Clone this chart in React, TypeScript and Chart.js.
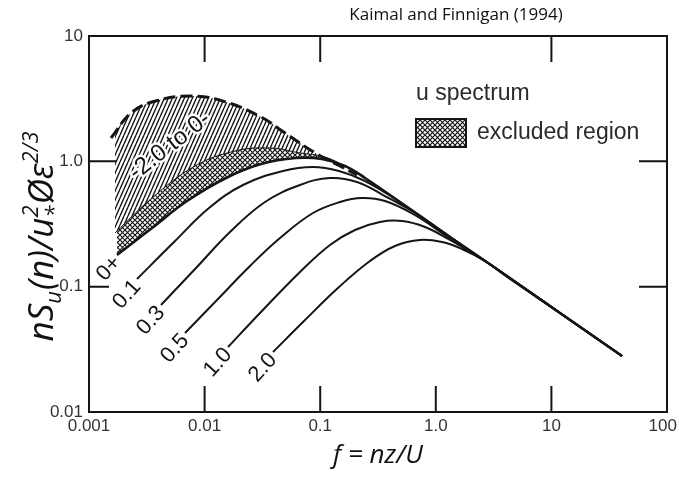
import React, { useEffect, useRef } from 'react';
import { Chart, registerables } from 'chart.js';

Chart.register(...registerables);

// ---- axis ticks ----
const X_TICKS = [0.001, 0.01, 0.1, 1, 10, 100];
const X_TICK_LABELS = ['0.001', '0.01', '0.1', '1.0', '10', '100\u2002'];
const Y_TICKS = [0.01, 0.1, 1, 10];
const Y_TICK_LABELS = ['0.01', '0.1', '1.0', '10'];
const BOTTOM_INNER_TICKS = [0.01, 0.1, 1, 10];
const TOP_INNER_TICKS = [0.01, 0.1, 10];
const SIDE_INNER_TICKS = [1, 0.1];

// ---- shared high-frequency (-2/3) tail ----
const TAIL_F = [0.4901, 1.327, 3.003, 11.87, 40.81];
const TAIL_V = [0.4736, 0.249, 0.1489, 0.06164, 0.02798];

// ---- dashed upper envelope (-2.0 to 0-) ----
const DASH_F = [0.0015502, 0.0022623, 0.0035075, 0.007626, 0.015316, 0.030743, 0.0496, 0.09382, 0.14836, 0.2081];
const DASH_V = [1.5357, 2.3864, 2.9749, 3.3206, 2.9749, 2.2584, 1.6834, 1.1444, 0.918, 0.778];

// ---- upper edge of the excluded (cross-hatched) region ----
const EXCL_F = [0.0016788, 0.0035075, 0.0082605, 0.01833, 0.036805, 0.06688, 0.11003, 0.16388];
const EXCL_V = [0.2681, 0.5097, 0.918, 1.209, 1.2777, 1.1657, 1.083, 0.918];

// ---- stable spectra, z/L = ----
const F_0P = [0.0017467, 0.0035075, 0.0070434, 0.015316, 0.030743, 0.06175, 0.10365, 0.16388, 0.2441];
const V_0P = [0.1789, 0.2938, 0.4824, 0.7364, 0.9523, 1.0633, 1.0439, 0.918, 0.7364];
const F_01 = [0.0026021, 0.0054365, 0.010916, 0.021483, 0.047665, 0.08664, 0.14544, 0.2441];
const V_01 = [0.1151, 0.2271, 0.4242, 0.6474, 0.8374, 0.9013, 0.8374, 0.6967];
const F_03 = [0.0041955, 0.0084267, 0.016585, 0.033307, 0.06688, 0.12154, 0.2081, 0.3494, 0.6878];
const V_03 = [0.0714, 0.1409, 0.273, 0.4736, 0.6474, 0.7364, 0.6841, 0.5386, 0.38];
const F_05 = [0.0067686, 0.012802, 0.024707, 0.0449, 0.08664, 0.14836, 0.22992, 0.36356, 0.6349, 1.2751];
const V_05 = [0.0427, 0.07827, 0.14621, 0.24446, 0.387, 0.4736, 0.5097, 0.4824, 0.38, 0.249];
const F_10 = [0.015938, 0.030743, 0.06688, 0.12154, 0.2, 0.3291, 0.51002, 0.8064, 1.327, 2.1834];
const V_10 = [0.03302, 0.06278, 0.13094, 0.21503, 0.28335, 0.3281, 0.33418, 0.2993, 0.2357, 0.1789];
const F_20 = [0.039065, 0.07242, 0.14544, 0.2696, 0.44367, 0.7301, 1.1315, 1.6852, 2.6659, 4.384];
const V_20 = [0.03011, 0.05321, 0.09939, 0.16025, 0.21112, 0.2357, 0.2271, 0.19979, 0.16025, 0.1151];

const CURVE_LABELS = ['0+', '0.1', '0.3', '0.5', '1.0', '2.0'];
const CURVE_F = [F_0P, F_01, F_03, F_05, F_10, F_20];
const CURVE_V = [V_0P, V_01, V_03, V_05, V_10, V_20];
const CURVE_TAIL_FROM = [0, 0, 1, 2, 2, 3];

const TITLE = 'Kaimal and Finnigan (1994)';
const X_TITLE = 'f = nz/U';
const RANGE_LABEL = '-2.0 to 0-';
const RANGE_LABEL_AT = { f: 0.005, v: 1.33 };
const LEGEND_TITLE = 'u spectrum';
const LEGEND_ITEM = 'excluded region';

const INK = '#151515';

function pts(f: number[], v: number[]) {
  return f.map((x, i) => ({ x, y: v[i] }));
}

function crossHatch(): CanvasPattern | string {
  const c = document.createElement('canvas');
  c.width = 5;
  c.height = 5;
  const g = c.getContext('2d');
  if (!g) return INK;
  g.strokeStyle = INK;
  g.lineWidth = 1.2;
  g.beginPath();
  g.moveTo(-1, -1);
  g.lineTo(6, 6);
  g.moveTo(-1, 6);
  g.lineTo(6, -1);
  g.stroke();
  return g.createPattern(c, 'repeat') || INK;
}

function diagHatch(): CanvasPattern | string {
  const w = 4;
  const h = 9;
  const c = document.createElement('canvas');
  c.width = w;
  c.height = h;
  const g = c.getContext('2d');
  if (!g) return INK;
  g.strokeStyle = INK;
  g.lineWidth = 1.35;
  g.beginPath();
  for (const dx of [-w, 0, w]) {
    g.moveTo(dx, h);
    g.lineTo(dx + w, 0);
  }
  g.stroke();
  return g.createPattern(c, 'repeat') || INK;
}

export default function App() {
  const ref = useRef<HTMLCanvasElement | null>(null);

  useEffect(() => {
    if (!ref.current) return;
    const cross = crossHatch();
    const diag = diagHatch();

    const curveSets = CURVE_LABELS.map((lab, i) => ({
      label: 'z/L = ' + lab,
      data: pts(
        CURVE_F[i].concat(TAIL_F.slice(CURVE_TAIL_FROM[i])),
        CURVE_V[i].concat(TAIL_V.slice(CURVE_TAIL_FROM[i]))
      ),
      borderColor: INK,
      borderWidth: i === 0 ? 2.6 : 2,
      backgroundColor: i === 0 ? cross : 'transparent',
      fill: i === 0 ? 1 : false,
      pointRadius: 0,
      tension: 0.4,
    }));

    const datasets: any[] = [
      {
        label: RANGE_LABEL,
        data: pts(DASH_F, DASH_V),
        borderColor: INK,
        borderWidth: 3,
        borderDash: [12, 5],
        backgroundColor: diag,
        fill: 1,
        pointRadius: 0,
        tension: 0.4,
      },
      {
        label: 'excluded upper edge',
        data: pts(EXCL_F, EXCL_V),
        borderColor: INK,
        borderWidth: 1,
        fill: false,
        pointRadius: 0,
        tension: 0.4,
      },
      ...curveSets,
    ];

    const overlay = {
      id: 'overlay',
      afterDatasetsDraw(chart: any) {
        const { ctx, chartArea: a, scales } = chart;
        const xs = scales.x;
        const ys = scales.y;
        ctx.save();
        // frame
        ctx.strokeStyle = INK;
        ctx.lineWidth = 2;
        ctx.strokeRect(a.left, a.top, a.right - a.left, a.bottom - a.top);
        // inward ticks
        ctx.beginPath();
        for (const v of BOTTOM_INNER_TICKS) {
          const x = xs.getPixelForValue(v);
          ctx.moveTo(x, a.bottom);
          ctx.lineTo(x, a.bottom - 26);
        }
        for (const v of TOP_INNER_TICKS) {
          const x = xs.getPixelForValue(v);
          ctx.moveTo(x, a.top);
          ctx.lineTo(x, a.top + 26);
        }
        SIDE_INNER_TICKS.forEach((v, k) => {
          const y = ys.getPixelForValue(v);
          ctx.moveTo(a.left, y);
          ctx.lineTo(a.left + (k === 0 ? 27 : 20), y);
          ctx.moveTo(a.right, y);
          ctx.lineTo(a.right - 28, y);
        });
        ctx.stroke();

        // curve labels at the start of each curve
        ctx.fillStyle = INK;
        ctx.font = '22px "Liberation Sans", Arial, sans-serif';
        ctx.textAlign = 'right';
        ctx.textBaseline = 'middle';
        CURVE_LABELS.forEach((lab, i) => {
          const meta = chart.getDatasetMeta(i + 2);
          const p = meta.data[0];
          ctx.save();
          ctx.translate(p.x, p.y);
          ctx.rotate((-48 * Math.PI) / 180);
          ctx.fillText(lab, -3, 3);
          ctx.restore();
        });

        // range label on hatched area
        const rx = xs.getPixelForValue(RANGE_LABEL_AT.f);
        const ry = ys.getPixelForValue(RANGE_LABEL_AT.v);
        ctx.save();
        ctx.translate(rx, ry);
        ctx.rotate((-38 * Math.PI) / 180);
        ctx.textAlign = 'center';
        ctx.font = '24px "Liberation Sans", Arial, sans-serif';
        ctx.strokeStyle = '#fff';
        ctx.lineWidth = 5;
        ctx.lineJoin = 'round';
        ctx.strokeText(RANGE_LABEL, 0, 0);
        ctx.fillText(RANGE_LABEL, 0, 0);
        ctx.restore();

        // legend
        ctx.textAlign = 'left';
        ctx.textBaseline = 'middle';
        ctx.fillStyle = '#2a2a2a';
        ctx.font = '23px "Liberation Sans", Arial, sans-serif';
        ctx.fillText(LEGEND_TITLE, 416, 94);
        ctx.fillText(LEGEND_ITEM, 477, 133);
        ctx.fillStyle = '#fff';
        ctx.fillRect(416, 119, 50, 28);
        ctx.fillStyle = cross as any;
        ctx.fillRect(416, 119, 50, 28);
        ctx.strokeStyle = INK;
        ctx.lineWidth = 2;
        ctx.strokeRect(416, 119, 50, 28);
        ctx.restore();
      },
      afterDraw(chart: any) {
        const { ctx } = chart;
        ctx.save();
        // top title
        ctx.fillStyle = '#111';
        ctx.font = '17px "Open Sans", sans-serif';
        ctx.textAlign = 'center';
        ctx.textBaseline = 'middle';
        ctx.fillText(TITLE, 456, 15);

        // y-axis title with sub/superscripts
        const big = 'italic 35px "Open Sans", sans-serif';
        const small = 'italic 22px "Open Sans", sans-serif';
        const parts: { t?: string; sub?: string; sup?: string }[] = [
          { t: 'nS' },
          { sub: 'u' },
          { t: '(n)/u' },
          { sub: '*', sup: '2' },
          { t: 'Øε' },
          { sup: '2/3' },
        ];
        const widthOf = (p: { t?: string; sub?: string; sup?: string }) => {
          if (p.t) {
            ctx.font = big;
            return ctx.measureText(p.t).width;
          }
          ctx.font = small;
          return Math.max(p.sub ? ctx.measureText(p.sub).width : 0, p.sup ? ctx.measureText(p.sup).width : 0) + 1;
        };
        const total = parts.reduce((s, p) => s + widthOf(p), 0);
        const cy = (chart.chartArea.top + chart.chartArea.bottom) / 2 + 12;
        ctx.translate(53, cy);
        ctx.rotate(-Math.PI / 2);
        ctx.textAlign = 'left';
        ctx.textBaseline = 'alphabetic';
        let x = -total / 2;
        for (const p of parts) {
          const w = widthOf(p);
          if (p.t) {
            ctx.font = big;
            ctx.fillText(p.t, x, 0);
          } else {
            ctx.font = small;
            if (p.sub) ctx.fillText(p.sub, x, 8);
            if (p.sup) ctx.fillText(p.sup, x, -15);
          }
          x += w;
        }
        ctx.restore();
      },
    };

    const chart = new Chart(ref.current, {
      type: 'line',
      data: { datasets },
      options: {
        animation: false,
        responsive: false,
        events: [],
        layout: { padding: { left: 0, right: 12, top: 36, bottom: 0 } },
        plugins: { legend: { display: false }, tooltip: { enabled: false }, title: { display: false } },
        scales: {
          x: {
            type: 'logarithmic',
            min: 0.001,
            max: 100,
            afterBuildTicks: (s: any) => {
              s.ticks = X_TICKS.map((v) => ({ value: v }));
            },
            afterFit: (s: any) => {
              s.height = 67;
              s.paddingLeft = 0;
              s.paddingRight = 0;
            },
            ticks: {
              autoSkip: false,
              maxRotation: 0,
              padding: 4,
              color: '#333',
              font: { family: '"Liberation Sans", Arial, sans-serif', size: 17 },
              callback: (v: any) => {
                const k = X_TICKS.indexOf(Number(v));
                return k >= 0 ? X_TICK_LABELS[k] : '';
              },
            },
            grid: { display: false, drawTicks: false },
            border: { display: false },
            title: {
              display: true,
              text: X_TITLE,
              color: '#111',
              font: { family: '"Open Sans", sans-serif', size: 26, style: 'italic' },
              padding: { top: 0, bottom: 8 },
            },
          },
          y: {
            type: 'logarithmic',
            min: 0.01,
            max: 10,
            afterBuildTicks: (s: any) => {
              s.ticks = Y_TICKS.map((v) => ({ value: v }));
            },
            afterFit: (s: any) => {
              s.width = 89;
              s.paddingTop = 0;
              s.paddingBottom = 0;
            },
            ticks: {
              autoSkip: false,
              padding: 6,
              color: '#333',
              font: { family: '"Liberation Sans", Arial, sans-serif', size: 17 },
              callback: (v: any) => {
                const k = Y_TICKS.indexOf(Number(v));
                return k >= 0 ? Y_TICK_LABELS[k] : '';
              },
            },
            grid: { display: false, drawTicks: false },
            border: { display: false },
            title: { display: false },
          },
        },
      } as any,
      plugins: [overlay],
    });
    return () => chart.destroy();
  }, []);

  return (
    <div style={{ position: 'fixed', left: 0, top: 0, width: 679, height: 479, background: '#fff' }}>
      <canvas ref={ref} width={679} height={479} />
    </div>
  );
}
